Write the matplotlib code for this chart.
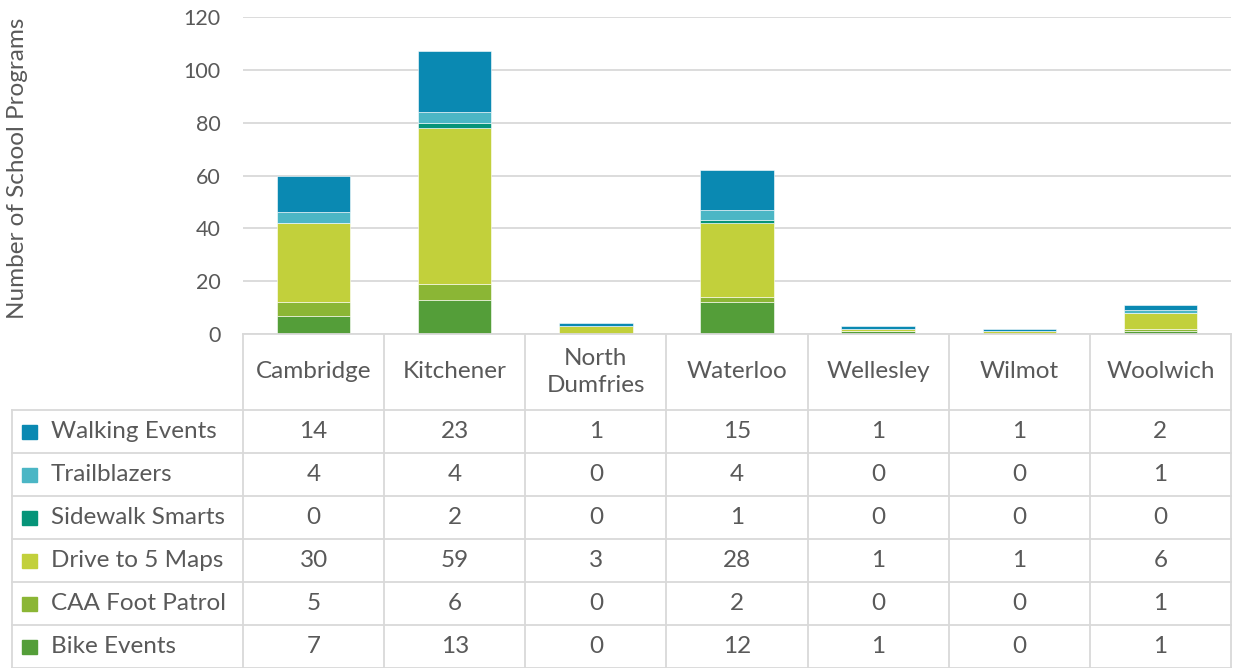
import matplotlib
matplotlib.use("Agg")
import matplotlib.pyplot as plt
from matplotlib.patches import Rectangle

# ---------------- data ----------------
municipalities = ["Cambridge", "Kitchener", "North\nDumfries", "Waterloo",
                  "Wellesley", "Wilmot", "Woolwich"]
# bottom to top stacking order
series_names = ["Bike Events", "CAA Foot Patrol", "Drive to 5 Maps",
                "Sidewalk Smarts", "Trailblazers", "Walking Events"]
bike_events = [7, 13, 0, 12, 1, 0, 1]
caa_foot_patrol = [5, 6, 0, 2, 0, 0, 1]
drive_to_5_maps = [30, 59, 3, 28, 1, 1, 6]
sidewalk_smarts = [0, 2, 0, 1, 0, 0, 0]
trailblazers = [4, 4, 0, 4, 0, 0, 1]
walking_events = [14, 23, 1, 15, 1, 1, 2]
series_values = [bike_events, caa_foot_patrol, drive_to_5_maps,
                 sidewalk_smarts, trailblazers, walking_events]
series_colors = ["#549E39", "#8BB635", "#C2D03B", "#069479", "#4BB6C5", "#0A89B2"]
y_ticks = [0, 20, 40, 60, 80, 100, 120]

# ---------------- style ----------------
plt.rcParams['font.family'] = ['Lato', 'DejaVu Sans']
txt = "#595959"
grid = "#D9D9D9"
fs = 17.5

W, H = 1236, 668
fig = plt.figure(figsize=(W / 100, H / 100), dpi=100)

# plot area in pixels
px_left, px_right, px_top, px_bottom = 243, 1231, 17, 334
ax = fig.add_axes([px_left / W, 1 - px_bottom / H,
                   (px_right - px_left) / W, (px_bottom - px_top) / H])

n = len(municipalities)
x = list(range(n))
bottom = [0] * n
for name, vals, col in zip(series_names, series_values, series_colors):
    ax.bar(x, vals, width=0.52, bottom=bottom, color=col, label=name,
           edgecolor="white", linewidth=0.4, zorder=3)
    bottom = [b + v for b, v in zip(bottom, vals)]

ax.set_xlim(-0.5, n - 0.5)
ax.set_ylim(0, 120)
ax.set_yticks(y_ticks)
ax.set_yticklabels([str(t) for t in y_ticks], color=txt, fontsize=15.5)
ax.tick_params(axis="y", length=0, pad=16)
ax.set_xticks([])
ax.yaxis.grid(True, color=grid, linewidth=1.3, zorder=0)
for s in ax.spines.values():
    s.set_visible(False)

fig.text(18 / W, 1 - 168 / H, "Number of School Programs", rotation=90,
         ha="center", va="center", color=txt, fontsize=fs)

# ---------------- data table (overlay in pixel coordinates) ----------------
tb = fig.add_axes([0, 0, 1, 1], zorder=5)
tb.set_xlim(0, W)
tb.set_ylim(H, 0)
tb.axis("off")
tb.patch.set_alpha(0)

col_w = (px_right - px_left) / n
head_top, head_bot = px_bottom, 410
row_h = 43
tbl_left = 12
rows = list(reversed(list(zip(series_names, series_values, series_colors))))
tbl_bot = head_bot + row_h * len(rows)

lw = 1.3
# vertical lines
for i in range(n + 1):
    xx = px_left + i * col_w
    tb.plot([xx, xx], [head_top, tbl_bot], color=grid, lw=lw)
tb.plot([tbl_left, tbl_left], [head_bot, tbl_bot], color=grid, lw=lw)
# horizontal lines
tb.plot([px_left, px_right], [head_top, head_top], color=grid, lw=lw)
for r in range(len(rows) + 1):
    yy = head_bot + r * row_h
    tb.plot([tbl_left, px_right], [yy, yy], color=grid, lw=lw)

# header
for i, m in enumerate(municipalities):
    tb.text(px_left + (i + 0.5) * col_w, (head_top + head_bot) / 2, m,
            ha="center", va="center", color=txt, fontsize=fs,
            linespacing=1.35)

# rows
for r, (name, vals, col) in enumerate(rows):
    yc = head_bot + (r + 0.5) * row_h
    tb.add_patch(Rectangle((22, yc - 7), 15, 14, color=col))
    tb.text(51, yc, name, ha="left", va="center", color=txt, fontsize=fs)
    for i, v in enumerate(vals):
        tb.text(px_left + (i + 0.5) * col_w, yc, str(v), ha="center",
                va="center", color=txt, fontsize=fs)

fig.savefig("out.png", dpi=100)
